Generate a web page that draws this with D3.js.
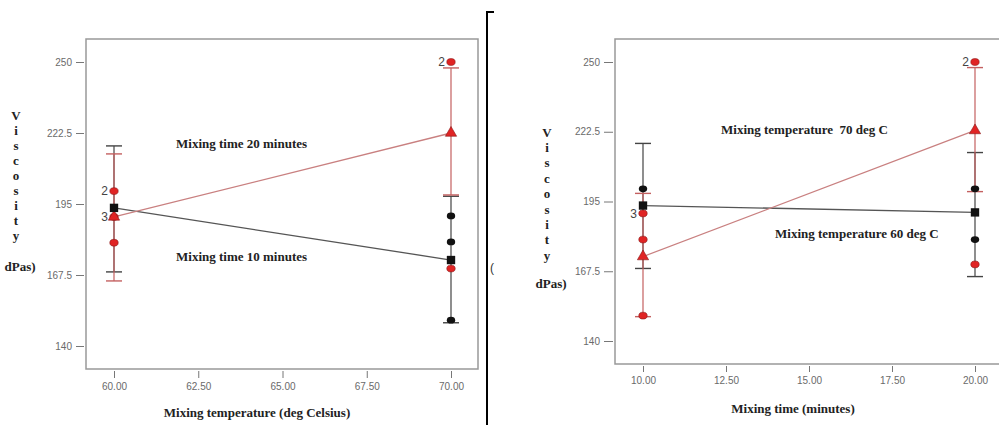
<!DOCTYPE html>
<html>
<head>
<meta charset="utf-8">
<script src="https://cdn.jsdelivr.net/npm/d3@7/dist/d3.min.js"></script>
<style>
  body { margin: 0; background: #fff; }
  svg { display: block; }
  .tick text { font-family: "Liberation Sans", Arial, sans-serif; font-size: 10px; fill: #6a6a6a; }
  .tick line { stroke: #777; }
  .ttl { font-family: "Liberation Serif", "Times New Roman", serif; font-weight: bold; font-size: 13px; fill: #222; }
  .cnt { font-family: "Liberation Sans", Arial, sans-serif; font-size: 12px; fill: #444; }
</style>
</head>
<body>
<svg width="999" height="425"></svg>
<script>
// ---- data ----
const yTicks = [140, 167.5, 195, 222.5, 250];
const tempTicks = [60, 62.5, 65, 67.5, 70];
const timeTicks = [10, 12.5, 15, 17.5, 20];

// left panel: viscosity vs mixing temperature
const tempLevels = [60, 70];
const time10Means = [193.5, 173.3];
const time20Means = [190, 222.5];
const time10Err = [[168.7, 217.5], [149, 198]];
const time20Err = [[165.2, 214.4], [198.5, 247.7]];
const time10Points = [[70, 190.4], [70, 180.3], [70, 150]];
const time20Points = [[60, 200], [60, 190], [60, 180], [70, 250], [70, 170]];
const leftCounts = [[60, 200, "2"], [60, 190, "3"], [70, 250, "2"]];

// right panel: viscosity vs mixing time
const timeLevels = [10, 20];
const temp60Means = [193.4, 190.7];
const temp70Means = [173.3, 223];
const temp60Err = [[168.6, 217.9], [165.4, 214.3]];
const temp70Err = [[149.6, 198.2], [198.9, 247.8]];
const temp60Points = [[10, 200], [20, 200], [20, 180]];
const temp70Points = [[10, 190.3], [10, 180], [10, 150], [20, 250], [20, 170.2]];
const rightCounts = [[10, 190.3, "3"], [20, 250, "2"]];

const svg = d3.select('svg');
const black = '#111', blackLine = '#555', blackBar = '#444';
const red = '#e02424', redLine = '#c98080', redBar = '#c46060';

function drawPanel(p) {
    const g = svg.append('g');
    const x = d3.scaleLinear().domain(p.xDomain).range(p.xRange);
    const y = d3.scaleLinear().domain([140, 250]).range(p.yRange);

    // frame
    g.append('path')
        .attr('d', `M${p.box[2]},${p.box[1]}H${p.box[0]}V${p.box[3]}H${p.box[2]}` + (p.closeRight ? 'Z' : ''))
        .attr('fill', 'none').attr('stroke', '#999').attr('stroke-width', 1.5);

    g.append('g')
        .attr('transform', `translate(${p.box[0] - 2},0)`)
        .call(d3.axisLeft(y).tickValues(yTicks).tickSize(p.yTickLen).tickPadding(4).tickFormat(d => d))
        .call(a => a.select('.domain').remove());

    g.append('g')
        .attr('transform', `translate(0,${p.box[3] + 2})`)
        .call(d3.axisBottom(x).tickValues(p.xTicks).tickSize(p.xTickLen).tickPadding(5).tickFormat(d3.format('.2f')))
        .call(a => a.select('.domain').remove());

    // error bars
    const bars = [[p.err1, blackBar], [p.err2, redBar]];
    bars.forEach(([err, c]) => {
        err.forEach((e, i) => {
            const cx = x(p.levels[i]);
            g.append('line').attr('x1', cx).attr('x2', cx).attr('y1', y(e[0])).attr('y2', y(e[1]))
                .attr('stroke', c).attr('stroke-width', 1.2);
            e.forEach(v => g.append('line').attr('x1', cx - 8).attr('x2', cx + 8)
                .attr('y1', y(v)).attr('y2', y(v)).attr('stroke', c).attr('stroke-width', 1.4));
        });
    });

    // mean lines
    const line = d3.line().x((d, i) => x(p.levels[i])).y(d => y(d));
    g.append('path').attr('d', line(p.means1)).attr('fill', 'none').attr('stroke', blackLine).attr('stroke-width', 1.3);
    g.append('path').attr('d', line(p.means2)).attr('fill', 'none').attr('stroke', redLine).attr('stroke-width', 1.3);

    // raw points
    g.selectAll('.p1').data(p.points1).enter().append('ellipse')
        .attr('cx', d => x(d[0])).attr('cy', d => y(d[1])).attr('rx', 4.2).attr('ry', 3.4)
        .attr('fill', black);
    g.selectAll('.p2').data(p.points2).enter().append('ellipse')
        .attr('cx', d => x(d[0])).attr('cy', d => y(d[1])).attr('rx', 4.2).attr('ry', 3.4)
        .attr('fill', red).attr('stroke', '#8a1a1a').attr('stroke-width', 0.6);

    // means
    g.selectAll('.m2').data(p.means2).enter().append('path')
        .attr('transform', (d, i) => `translate(${x(p.levels[i])},${y(d)})`)
        .attr('d', d3.symbol(d3.symbolTriangle, 55))
        .attr('fill', red).attr('stroke', '#8a1a1a').attr('stroke-width', 0.6);
    g.selectAll('.m1').data(p.means1).enter().append('path')
        .attr('transform', (d, i) => `translate(${x(p.levels[i])},${y(d)})`)
        .attr('d', d3.symbol(d3.symbolSquare, 70))
        .attr('fill', black);

    // counts
    g.selectAll('.cnt').data(p.counts).enter().append('text')
        .attr('class', 'cnt')
        .attr('x', d => x(d[0]) - 6).attr('y', d => y(d[1]))
        .attr('dy', '0.35em').attr('text-anchor', 'end')
        .text(d => d[2]);

    // titles
    g.append('text').attr('class', 'ttl').attr('x', p.xTitle[0]).attr('y', p.xTitle[1])
        .attr('text-anchor', 'middle').text(p.xLabel);
    'Viscosity'.split('').forEach((ch, i) => {
        g.append('text').attr('class', 'ttl').attr('x', p.yTitle[0]).attr('y', p.yTitle[1] + i * p.yStep)
            .attr('text-anchor', 'middle').attr('dy', '0.35em').text(ch);
    });
    g.append('text').attr('class', 'ttl').attr('x', p.yTitle[0] + 4).attr('y', p.yTitle[1] + 8 * p.yStep + p.unitGap)
        .attr('text-anchor', 'middle').attr('dy', '0.35em').text('dPas)');

    p.notes.forEach(n => g.append('text').attr('class', 'ttl')
        .attr('x', n[0]).attr('y', n[1]).attr('dy', '0.35em').attr('xml:space', 'preserve').text(n[2]));
}

drawPanel({
    xDomain: [60, 70], xRange: [114, 451], yRange: [346, 62],
    box: [86, 39, 478, 369], closeRight: true, yTickLen: 8, xTickLen: 7,
    xTicks: tempTicks, levels: tempLevels,
    means1: time10Means, means2: time20Means, err1: time10Err, err2: time20Err,
    points1: time10Points, points2: time20Points, counts: leftCounts,
    xLabel: 'Mixing temperature (deg Celsius)', xTitle: [257, 417],
    yTitle: [16, 115], yStep: 15, unitGap: 31,
    notes: [[176, 143, 'Mixing time 20 minutes'], [176, 256, 'Mixing time 10 minutes']]
});

drawPanel({
    xDomain: [10, 20], xRange: [643, 975], yRange: [341, 62],
    box: [615, 39, 1001, 364], closeRight: false, yTickLen: 9, xTickLen: 6,
    xTicks: timeTicks, levels: timeLevels,
    means1: temp60Means, means2: temp70Means, err1: temp60Err, err2: temp70Err,
    points1: temp60Points, points2: temp70Points, counts: rightCounts,
    xLabel: 'Mixing time (minutes)', xTitle: [793, 413],
    yTitle: [547, 132], yStep: 15.4, unitGap: 28,
    notes: [[721, 129, 'Mixing temperature  70 deg C'], [775, 233, 'Mixing temperature 60 deg C']]
});

// divider between the two panels
svg.append('path').attr('d', 'M494,12H487V425').attr('fill', 'none').attr('stroke', '#000').attr('stroke-width', 2);
svg.append('text').attr('class', 'cnt').attr('x', 490).attr('y', 268).attr('dy', '0.35em').style('fill', '#333').text('(');
</script>
</body>
</html>
